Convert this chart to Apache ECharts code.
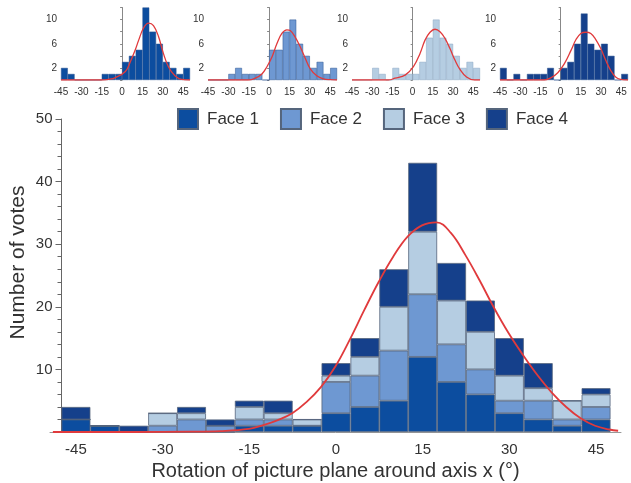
<!DOCTYPE html>
<html><head><meta charset="utf-8">
<script src="https://cdn.jsdelivr.net/npm/echarts@6/dist/echarts.min.js"></script>
<style>html,body{margin:0;padding:0;background:#fff}#c{width:631px;height:483px}</style>
</head><body><div id="c"></div>
<script>
// ---- data ----
const bins = [-45,-40,-35,-30,-25,-20,-15,-10,-5,0,5,10,15,20,25,30,35,40,45];
const face1 = [2,1,0,0,0,0,1,1,1,3,4,5,12,8,6,3,2,1,2];
const face2 = [0,0,0,1,2,1,1,1,0,5,5,8,10,6,4,2,3,1,2];
const face3 = [0,0,0,2,1,0,2,1,1,1,3,7,10,7,6,4,2,3,2];
const face4 = [2,0,1,0,1,1,1,2,0,2,3,6,11,6,5,6,4,0,1];
const faceNames = ['Face 1','Face 2','Face 3','Face 4'];
const mainXTicks = [-45,-30,-15,0,15,30,45];
const smallYTicks = [2,6,10];
// fitted curve of the main chart, read point by point
const mainCurve = [[-49,0],[-35,0],[-25,0.05],[-20,0.15],[-15,0.5],[-12.5,1.1],[-10,1.9],[-7.5,3.0],[-5,4.8],[-2.5,7.2],[0,10.5],[2.5,14.8],[5,19.5],[7.5,24.0],[10,28.0],[12.5,31.2],[15,33.0],[17.5,33.5],[20,31.8],[22.5,28.3],[25,24.2],[27.5,19.8],[30,15.8],[32.5,12.3],[35,9.1],[37.5,6.3],[40,4.0],[42.5,2.2],[45,1.0],[47.5,0.4],[49,0.2]];
// fitted curves of the four small histograms
const curve1 = [[-45,0],[-15,0],[-10,0.1],[-4.9,0.4],[2.4,1.4],[6,3.0],[9.7,5.0],[12.2,6.6],[15.8,8.6],[19.5,9.4],[23.1,9.0],[26.8,7.2],[30.4,4.4],[34.1,2.2],[38.9,0.7],[43.8,0.1],[50,0]];
const curve2 = [[-45,0],[-15,0],[-10.2,0.3],[-5.3,1.0],[-1.6,2.2],[2.1,3.8],[5.7,6.0],[9.4,7.7],[13.1,8.3],[15.5,8.2],[19.2,7.1],[22.9,5.5],[26.6,3.6],[30.2,1.9],[35.1,0.7],[40,0.2],[45,0.05],[50,0]];
const curve3 = [[-45,0],[-18,0],[-13,0.3],[-5.6,0.8],[0.6,2.2],[5.5,4.4],[9.2,6.6],[12.9,7.9],[16.6,8.4],[20.3,8.0],[24,6.9],[27.7,5.2],[31.4,3.3],[35,1.8],[40,0.5],[46,0],[50,0]];
const curve4 = [[-45,0],[-12,0],[-7,0.4],[-2.1,1.2],[2.8,2.7],[7.7,4.9],[11.4,6.7],[15,7.7],[18.7,7.9],[22.4,7.7],[26.1,6.7],[29.8,5.2],[33.4,3.3],[37.1,1.6],[40.8,0.5],[44.5,0.1],[50,0]];

// ---- styling ----
const FONT = 'Liberation Sans, Arial, sans-serif';
const faceColors = ['#0c4d9f','#6e98d2','#b5cde2','#15408b'];
const RED = '#e03a3c';
const faces = [face1, face2, face3, face4];
const curves = [curve1, curve2, curve3, curve4];
const smallGrids = [
  {left: 61, width: 129},
  {left: 208, width: 129},
  {left: 352, width: 128},
  {left: 500, width: 128}
];

const grid = [
  {left: 61.5, width: 549, top: 119, height: 313},
  {left: 50, width: 571, top: 119, height: 313}
];
const xAxis = [
  {type: 'category', gridIndex: 0, data: bins.map(String), position: 'bottom',
   axisLine: {show: false}, axisTick: {show: false},
   axisLabel: {interval: (i, v) => mainXTicks.includes(+v), fontSize: 15, color: '#333', fontFamily: FONT, margin: 10}},
  {type: 'value', gridIndex: 1, min: -49.5, max: 49.5, position: 'bottom',
   axisLine: {show: true, lineStyle: {color: '#999', width: 1}}, axisTick: {show: false},
   axisLabel: {show: false}, splitLine: {show: false},
   name: 'Rotation of picture plane around axis x (°)', nameLocation: 'middle', nameGap: 29,
   nameMoveOverlap: false,
   nameTextStyle: {fontSize: 20, color: '#333', fontFamily: FONT}}
];
const yAxis = [
  {type: 'value', gridIndex: 0, min: 0, max: 50, interval: 10,
   axisLine: {show: true, lineStyle: {color: '#666'}},
   axisTick: {show: true, length: 6, lineStyle: {color: '#666'}},
   minorTick: {show: true, splitNumber: 5, length: 4, lineStyle: {color: '#666'}},
   splitLine: {show: false},
   axisLabel: {showMinLabel: false, fontSize: 15, color: '#333', fontFamily: FONT, margin: 9},
   name: 'Number of votes', nameLocation: 'middle', nameGap: 33, nameMoveOverlap: false,
   nameTextStyle: {fontSize: 21, color: '#333', fontFamily: FONT, padding: [0, 0, 0, 26]}},
  {type: 'value', gridIndex: 1, min: 0, max: 50, show: false}
];
const series = [];
faces.forEach((d, k) => {
  series.push({name: faceNames[k], type: 'bar', xAxisIndex: 0, yAxisIndex: 0, stack: 'main',
    data: d, barCategoryGap: 0, barWidth: '100%',
    itemStyle: {color: faceColors[k], borderColor: '#55657c', borderWidth: 0.8}});
});
series.push({name: 'fit', type: 'line', xAxisIndex: 1, yAxisIndex: 1, data: mainCurve, smooth: 0.4,
  showSymbol: false, lineStyle: {color: RED, width: 1.8}, z: 5});

smallGrids.forEach((g, k) => {
  grid.push({left: g.left, width: g.width, top: 7.5, height: 72.5});
  const gi = grid.length - 1;
  xAxis.push({type: 'category', gridIndex: gi, data: bins.map(String), show: false, position: 'bottom'});
  xAxis.push({type: 'value', gridIndex: gi, min: -45, max: 50, interval: 15, position: 'bottom',
    axisLine: {show: false}, axisTick: {show: false}, splitLine: {show: false},
    axisLabel: {showMaxLabel: false, fontSize: 10, color: '#333', fontFamily: FONT, margin: 7}});
  yAxis.push({type: 'value', gridIndex: gi, min: 0, max: 12, interval: 2,
    axisLine: {show: true, lineStyle: {color: '#888'}},
    axisTick: {show: true, length: 2, lineStyle: {color: '#888'}},
    splitLine: {show: false},
    axisLabel: {formatter: v => smallYTicks.includes(v) ? String(v) : '', fontSize: 10, color: '#333', fontFamily: FONT, margin: 4}});
  const xi = xAxis.length - 2;
  series.push({name: 'h' + (k + 1), type: 'bar', xAxisIndex: xi, yAxisIndex: yAxis.length - 1,
    data: faces[k], barCategoryGap: 0, barWidth: '100%',
    itemStyle: {color: faceColors[k], borderColor: k === 2 ? '#8aa6c2' : '#2d5590', borderWidth: 0.5}});
  series.push({name: 'c' + (k + 1), type: 'line', xAxisIndex: xi + 1, yAxisIndex: yAxis.length - 1,
    data: curves[k], smooth: 0.4, showSymbol: false, lineStyle: {color: RED, width: 1.3}, z: 5});
});

const chart = echarts.init(document.getElementById('c'), null, {renderer: 'canvas'});
chart.setOption({
  animation: false,
  backgroundColor: '#fff',
  textStyle: {fontFamily: FONT},
  grid: grid.map(g => Object.assign({outerBoundsMode: 'none', containLabel: false}, g)),
  legend: {data: faceNames, left: 177, top: 108, padding: 0, orient: 'horizontal', icon: 'rect',
    itemWidth: 20, itemHeight: 20, itemGap: 21, selectedMode: false,
    textStyle: {fontSize: 17, color: '#333', fontFamily: FONT, padding: [0, 0, 0, 4]}},
  xAxis: xAxis,
  yAxis: yAxis,
  series: series
});
</script></body></html>
